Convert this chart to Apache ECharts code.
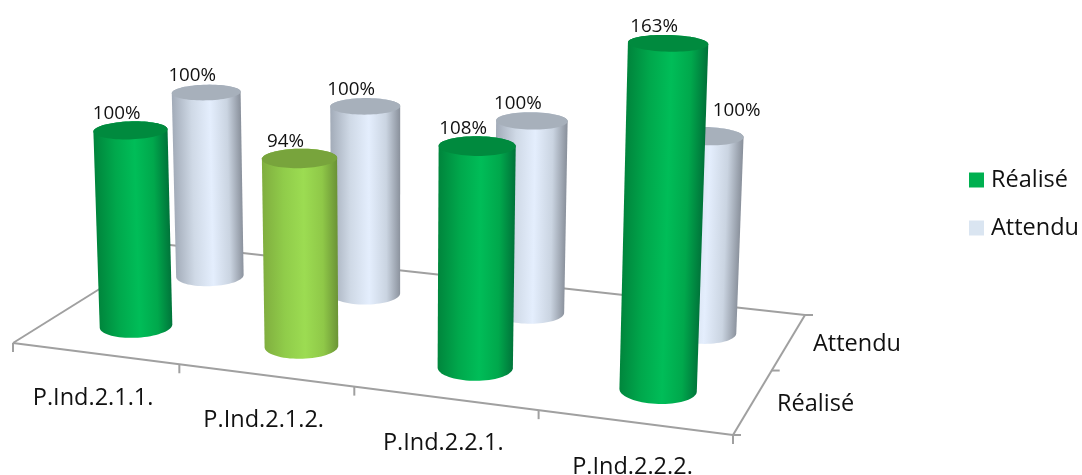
<!DOCTYPE html>
<html>
<head>
<meta charset="utf-8">
<style>html,body{margin:0;padding:0;background:#fff}#chart{width:1082px;height:475px}</style>
<script src="https://cdn.jsdelivr.net/npm/echarts@6/dist/echarts.min.js"></script>
</head>
<body>
<div id="chart"></div>
<script>
// Chart values
const categories = ['P.Ind.2.1.1.', 'P.Ind.2.1.2.', 'P.Ind.2.2.1.', 'P.Ind.2.2.2.'];
const seriesNames = ['Réalisé', 'Attendu'];
const realise = [100, 94, 108, 163];
const attendu = [100, 100, 100, 100];

// Perspective camera: floor quad in screen space and the vanishing point of verticals
const FLOOR = { fl: [13, 343], fr: [733, 435], br: [805, 315], bl: [170, 245] };
const VANISH = [396, 9484];
const HEIGHT_K = -0.0214;   // projective weight of one full 100% of height
const RADIUS_U = 0.05, RADIUS_V = 0.105;
const FONT = '"Open Sans", sans-serif';
const TEXT_SIZE = 23.5, LABEL_SIZE = 18.8;
const W = 1082, H = 475, VALUE_MAX = 200;

// Floor homography from the unit square to the quad
const dx1 = [FLOOR.fr[0] - FLOOR.br[0], FLOOR.fr[1] - FLOOR.br[1]];
const dx2 = [FLOOR.bl[0] - FLOOR.br[0], FLOOR.bl[1] - FLOOR.br[1]];
const sum = [FLOOR.fl[0] - FLOOR.fr[0] + FLOOR.br[0] - FLOOR.bl[0], FLOOR.fl[1] - FLOOR.fr[1] + FLOOR.br[1] - FLOOR.bl[1]];
const det = dx1[0] * dx2[1] - dx1[1] * dx2[0];
const gU = (sum[0] * dx2[1] - sum[1] * dx2[0]) / det;
const gV = (dx1[0] * sum[1] - dx1[1] * sum[0]) / det;
const homog = (p, w) => [p[0] * w, p[1] * w, w];
const cA = homog(FLOOR.fl, 1), cB = homog(FLOOR.fr, 1 + gU), cC = homog(FLOOR.br, 1 + gU + gV), cD = homog(FLOOR.bl, 1 + gV);

function project(u, v, h) {
  const q = [0, 1, 2].map(i => (1 - u) * (1 - v) * cA[i] + u * (1 - v) * cB[i] + u * v * cC[i] + (1 - u) * v * cD[i]);
  const k = (h || 0) * HEIGHT_K;
  const w = q[2] + k;
  return [(q[0] + k * VANISH[0]) / w, (q[1] + k * VANISH[1]) / w];
}

function ring(u, v, h) {
  const pts = [];
  for (let i = 0; i < 72; i++) {
    const a = i / 72 * Math.PI * 2;
    pts.push(project(u + RADIUS_U * Math.cos(a), v + RADIUS_V * Math.sin(a), h));
  }
  return pts;
}

function hull(points) {
  const p = points.slice().sort((a, b) => a[0] - b[0] || a[1] - b[1]);
  const cross = (o, a, b) => (a[0] - o[0]) * (b[1] - o[1]) - (a[1] - o[1]) * (b[0] - o[0]);
  const build = list => {
    const out = [];
    for (const pt of list) {
      while (out.length > 1 && cross(out[out.length - 2], out[out.length - 1], pt) <= 0) out.pop();
      out.push(pt);
    }
    out.pop();
    return out;
  };
  return build(p).concat(build(p.reverse()));
}

// Side shading runs across the cylinder: [left edge, shoulder, highlight, shoulder, right edge]
const STOP_AT = [0, 0.28, 0.55, 0.8, 1];
const PALETTE = {
  green: { side: ['#00853C', '#00A84C', '#00BD58', '#00A84C', '#00743A'], top: '#008A3E' },
  lime: { side: ['#80AE3F', '#90CC4A', '#9CDC52', '#8FC848', '#6B9336'], top: '#78A43C' },
  blue: { side: ['#A3ACB9', '#CFD9E6', '#E4EEFD', '#CAD4E1', '#8A919C'], top: '#A7B0BB' }
};

function shade(seriesIndex, value) {
  if (seriesIndex === 1) return PALETTE.blue;
  return value < 100 ? PALETTE.lime : PALETTE.green;
}

// Labels sit up and to the left of each cylinder top; the last Attendu label clears its neighbour
const LABEL_OFFSET = [-14, -17];
const LABEL_NUDGE = { '1:3': [44, -8] };

// Category and value scales come from the hidden axes of the grid
const depthOf = idx => (idx + 0.5) / seriesNames.length;
const toU = (api, i) => api.coord([i, 0])[0] / W;
const toH = (api, val) => (H - api.coord([0, val])[1]) / H * VALUE_MAX / 100;

function renderCylinder(params, api) {
  const cat = api.value(0), val = api.value(1);
  const u = toU(api, cat), v = depthOf(params.seriesIndex), h = toH(api, val);
  const base = ring(u, v, 0), top = ring(u, v, h);
  const tone = shade(params.seriesIndex, val);
  const body = hull(base.concat(top));
  const c0 = project(u, v, 0), c = project(u, v, h);

  // Shading direction is perpendicular to the leaning axis of the cylinder
  const ax = c[0] - c0[0], ay = c[1] - c0[1], len = Math.hypot(ax, ay);
  const nx = -ay / len, ny = ax / len;
  const across = ring(u, v, h / 2).map(p => (p[0] - c0[0]) * nx + (p[1] - c0[1]) * ny);
  const r0 = Math.min.apply(null, across), r1 = Math.max.apply(null, across);
  const grad = new echarts.graphic.LinearGradient(
    c0[0] + nx * r0, c0[1] + ny * r0, c0[0] + nx * r1, c0[1] + ny * r1,
    tone.side.map((color, i) => ({ offset: STOP_AT[i], color })), true);

  const nudge = LABEL_NUDGE[params.seriesIndex + ':' + cat] || [0, 0];
  return {
    type: 'group',
    children: [
      { type: 'polygon', shape: { points: body }, style: { fill: grad } },
      { type: 'polygon', shape: { points: top }, style: { fill: tone.top } },
      { type: 'text', style: { text: val + '%', x: c[0] + LABEL_OFFSET[0] + nudge[0], y: c[1] + LABEL_OFFSET[1] + nudge[1], align: 'center', verticalAlign: 'middle', fontFamily: FONT, fontSize: LABEL_SIZE, fill: '#111' } }
    ]
  };
}

const lineStyle = { stroke: '#A0A0A0', lineWidth: 2, fill: null };
const seg = (a, b) => ({ type: 'line', shape: { x1: a[0], y1: a[1], x2: b[0], y2: b[1] }, style: lineStyle });

function renderFloor(params, api) {
  const cat = api.value(0);
  const children = [];
  const u = toU(api, cat);
  const uStart = u - (toU(api, 1) - toU(api, 0)) / 2;
  const uEnd = u + (toU(api, 1) - toU(api, 0)) / 2;
  const tick = project(uStart, 0);
  children.push(seg(tick, [tick[0], tick[1] + 9]));
  const mid = project(u, 0);
  children.push({ type: 'text', style: { text: categories[cat], x: mid[0] - 2, y: mid[1] + 45, align: 'center', verticalAlign: 'middle', fontFamily: FONT, fontSize: TEXT_SIZE, fill: '#111' } });
  if (cat === categories.length - 1) {
    const fr = project(uEnd, 0), fl = project(0, 0), br = project(uEnd, 1), bl = project(0, 1);
    children.push(seg(fl, fr), seg(fr, br), seg(br, bl), seg(bl, fl));
    children.push(seg(fr, [fr[0], fr[1] + 9]));
    seriesNames.forEach((name, i) => {
      const edgeTick = project(uEnd, i / seriesNames.length);
      children.push(seg(edgeTick, [edgeTick[0] + 8, edgeTick[1]]));
      const e = project(uEnd, depthOf(i));
      children.push({ type: 'text', style: { text: name, x: e[0] + 24, y: e[1] + 3, align: 'left', verticalAlign: 'middle', fontFamily: FONT, fontSize: TEXT_SIZE, fill: '#111' } });
    });
    children.push(seg(br, [br[0] + 8, br[1]]));
  }
  return { type: 'group', children };
}

const chart = echarts.init(document.getElementById('chart'), null, { renderer: 'canvas' });
const rows = vals => vals.map((v, i) => [i, v]);
chart.setOption({
  animation: false,
  backgroundColor: '#fff',
  grid: { left: 0, top: 0, width: W, height: H },
  xAxis: { type: 'category', data: categories, show: false },
  yAxis: { type: 'value', min: 0, max: VALUE_MAX, show: false },
  legend: {
    data: seriesNames, orient: 'vertical', left: 969, top: 168, padding: 0, icon: 'rect',
    itemWidth: 15, itemHeight: 15, itemGap: 24, selectedMode: false,
    textStyle: { fontFamily: FONT, fontSize: TEXT_SIZE, color: '#111', padding: [0, 0, 0, 2], lineHeight: 15, height: 15 }
  },
  series: [
    { name: seriesNames[0], type: 'custom', z: 4, silent: true, renderItem: renderCylinder, data: rows(realise), itemStyle: { color: '#00B050' }, clip: false },
    { name: seriesNames[1], type: 'custom', z: 3, silent: true, renderItem: renderCylinder, data: rows(attendu), itemStyle: { color: '#DAE5F1' }, clip: false },
    { name: 'floor', type: 'custom', z: 2, silent: true, renderItem: renderFloor, data: categories.map((c, i) => [i, 0]), clip: false }
  ]
});
</script>
</body>
</html>
